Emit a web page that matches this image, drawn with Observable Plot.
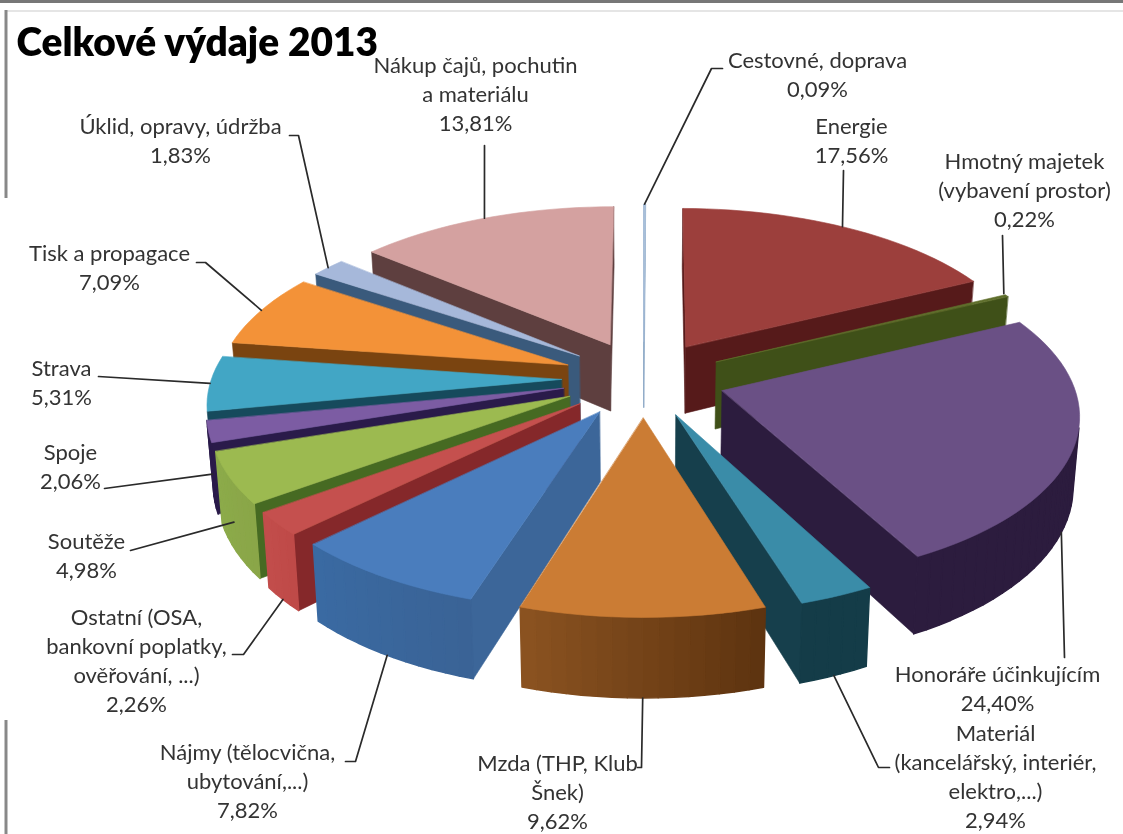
<!DOCTYPE html>
<html lang="cs">
<head>
<meta charset="utf-8">
<title>Celkové výdaje 2013</title>
<script src="https://cdn.jsdelivr.net/npm/d3@7"></script>
<script src="https://cdn.jsdelivr.net/npm/@observablehq/plot@0.6"></script>
<style>
html,body{margin:0;padding:0;background:#fff}
svg{display:block;filter:blur(0.45px)}
</style>
</head>
<body>
<div id="chart"></div>
<script>
// data, clockwise from the top of the pie
const names = ["Cestovné, doprava","Energie","Hmotný majetek\n(vybavení prostor)","Honoráře účinkujícím","Materiál\n(kancelářský, interiér,\nelektro,...)","Mzda (THP, Klub\nŠnek)","Nájmy (tělocvična,\nubytování,...)","Ostatní (OSA,\nbankovní poplatky,\nověřování, ...)","Soutěže","Spoje","Strava","Tisk a propagace","Úklid, opravy, údržba","Nákup čajů, pochutin\na materiálu"];
const values = [0.09,17.56,0.22,24.40,2.94,9.62,7.82,2.26,4.98,2.06,5.31,7.09,1.83,13.81];
// colours
const topColors = ["#a9c0da","#9c3f3c","#5f6f2c","#6a5085","#3a8ca8","#cb7c34","#4a7dbd","#c5504e","#9cba50","#7c5ca3","#42a6c5","#f39238","#a6b8da","#d4a1a0"];
const wallColors = ["#8aa6c4","#561a1a","#3f5018","#2c1c3e","#163f4c","#6a3c14","#3c6699","#85282a","#466a22","#2a1b4a","#164a5c","#7a4410","#3a5a7c","#5e3f3f"];
const rimStart = ["#8aa6c4","#561a1a","#3f5018","#2c1c3e","#143c48","#5e3410","#3a6396","#bf4a48","#8aa648","#2a1b4a","#164a5c","#7a4410","#3a5a7c","#5e3f3f"];
const rimEnd = ["#8aa6c4","#561a1a","#3f5018","#2c1c3e","#143c48","#8a5220","#3a6aa2","#c24d4b","#8cab4a","#2a1b4a","#164a5c","#7a4410","#3a5a7c","#5e3f3f"];
// layout: first text line of each label, leader path from the label, and where the leader meets the slice
const labelX = [817,851,1024,997,995,557,247,136,86,70,61,109,180,475];
const labelY = [62,128,163,676,735,765,754,619,543,454,370,255,128,67];
const leaderPaths = [[[722,68],[711,68]],[[843,170]],[[1002,235]],[[1064,657]],[[889,767],[878,767]],[[637,767],[641,767]],[[345,761],[355,761]],[[232,654],[243,654]],[[130,550]],[[104,488]],[[98,376]],[[196,262],[205,262]],[[289,135],[298,135]],[[484,145]]];
const leaderDepth = [0,0,0,1,1,1,1,1,0.6,0.6,0,0,0,0];
const leaderShift = [0,-0.01,-0.015,0.09,0,0,0,0,0,0,0,0,0,0];
// pie projection parameters
const cx = 643, cy = 378, ax = 350, ay = 163.4, persp = 0.1265, burst = 0.234, drop = 68, squeeze = 0.985;

const total = d3.sum(values);
const pct = v => d3.format(".2f")(v).replace(".", ",") + "%";
const rad = d3.cumsum(values).map(c => c / total * 2 * Math.PI);
const spans = values.map((v, i) => {
  const a1 = rad[i], a0 = a1 - v / total * 2 * Math.PI;
  return {i, a0, a1, m: (a0 + a1) / 2};
});
function project(s, r, a, depth = 0) {
  const X = burst * Math.sin(s.m) + r * Math.sin(a);
  const Y = burst * Math.cos(s.m) + r * Math.cos(a);
  const w = 1 + persp * Y;
  const k = 1 - (1 - squeeze) * depth;
  return [cx + ax * X / w * k, cy - ay * Y / w + depth * drop / w];
}
const rows = [];
let faceId = 0;
function addFace(poly, color, sw) {
  const id = faceId++;
  for (const [x, y] of poly) rows.push({x, y, face: id, color, sw});
}
function addSide(pa, pb, ba, bb, color, sw = 0.6) {
  // screen-space winding decides whether the side looks at the viewer
  if (d3.polygonArea([pa, pb, bb, ba]) > 0) addFace([pa, pb, bb, ba], color, sw);
}
const order = [...spans].sort((p, q) => Math.cos(q.m) - Math.cos(p.m));
for (const s of order) {
  const n = Math.max(2, Math.ceil((s.a1 - s.a0) / 0.04));
  const angles = d3.range(n + 1).map(j => s.a0 + (s.a1 - s.a0) * j / n);
  const rimTop = angles.map(a => project(s, 1, a));
  const rimBot = angles.map(a => project(s, 1, a, 1));
  const apexTop = project(s, 0, 0), apexBot = project(s, 0, 0, 1);
  addSide(apexTop, rimTop[0], apexBot, rimBot[0], wallColors[s.i]);
  addSide(rimTop[n], apexTop, rimBot[n], apexBot, wallColors[s.i]);
  const mix = d3.interpolateRgb(rimStart[s.i], rimEnd[s.i]);
  for (let j = 0; j < n; j++) addSide(rimTop[j], rimTop[j + 1], rimBot[j], rimBot[j + 1], mix(j / (n - 1 || 1)), 1.4);
  addFace([apexTop, ...rimTop], topColors[s.i], 0.6);
}
const leaderRows = [];
spans.forEach(s => {
  const pts = [...leaderPaths[s.i], project(s, 1, s.m + leaderShift[s.i], leaderDepth[s.i])];
  pts.forEach(([x, y]) => leaderRows.push({x, y, id: s.i}));
});
const labels = spans.map(s => ({
  x: labelX[s.i], y: labelY[s.i] - 14.5,
  text: names[s.i] + "\n" + pct(values[s.i])
}));
const font = "Lato, 'Open Sans', sans-serif";
const chart = Plot.plot({
  width: 1123, height: 834, margin: 0,
  x: {domain: [0, 1123], range: [0, 1123], axis: null},
  y: {domain: [0, 834], range: [0, 834], axis: null},
  color: {type: "identity"},
  style: {background: "#fff"},
  marks: [
    Plot.ruleY([1], {x1: 0, x2: 1123, stroke: "#777", strokeWidth: 3}),
    Plot.ruleY([10.5], {x1: 5, x2: 1123, stroke: "#ddd", strokeWidth: 1.5}),
    Plot.ruleX([5.5], {y1: 10, y2: 198, stroke: "#888", strokeWidth: 3}),
    Plot.ruleX([5.5], {y1: 720, y2: 834, stroke: "#888", strokeWidth: 3}),
    Plot.line(rows, {x: "x", y: "y", z: "face", fill: "color", stroke: "color", strokeWidth: "sw", curve: "linear-closed"}),
    Plot.line(leaderRows, {x: "x", y: "y", z: "id", stroke: "#2a2a2a", strokeWidth: 1.7}),
    Plot.text(labels, {x: "x", y: "y", text: "text", lineAnchor: "top", lineHeight: 1.31, fontFamily: font, fontSize: 22, fill: "#333", textAnchor: "middle"}),
    Plot.text(["Celkové výdaje 2013"], {x: () => 16, y: () => 43, textAnchor: "start", lineAnchor: "middle", fontFamily: font, fontWeight: 800, fontSize: 38.8, fill: "#000"})
  ]
});
document.getElementById("chart").append(chart);
</script>
</body>
</html>
